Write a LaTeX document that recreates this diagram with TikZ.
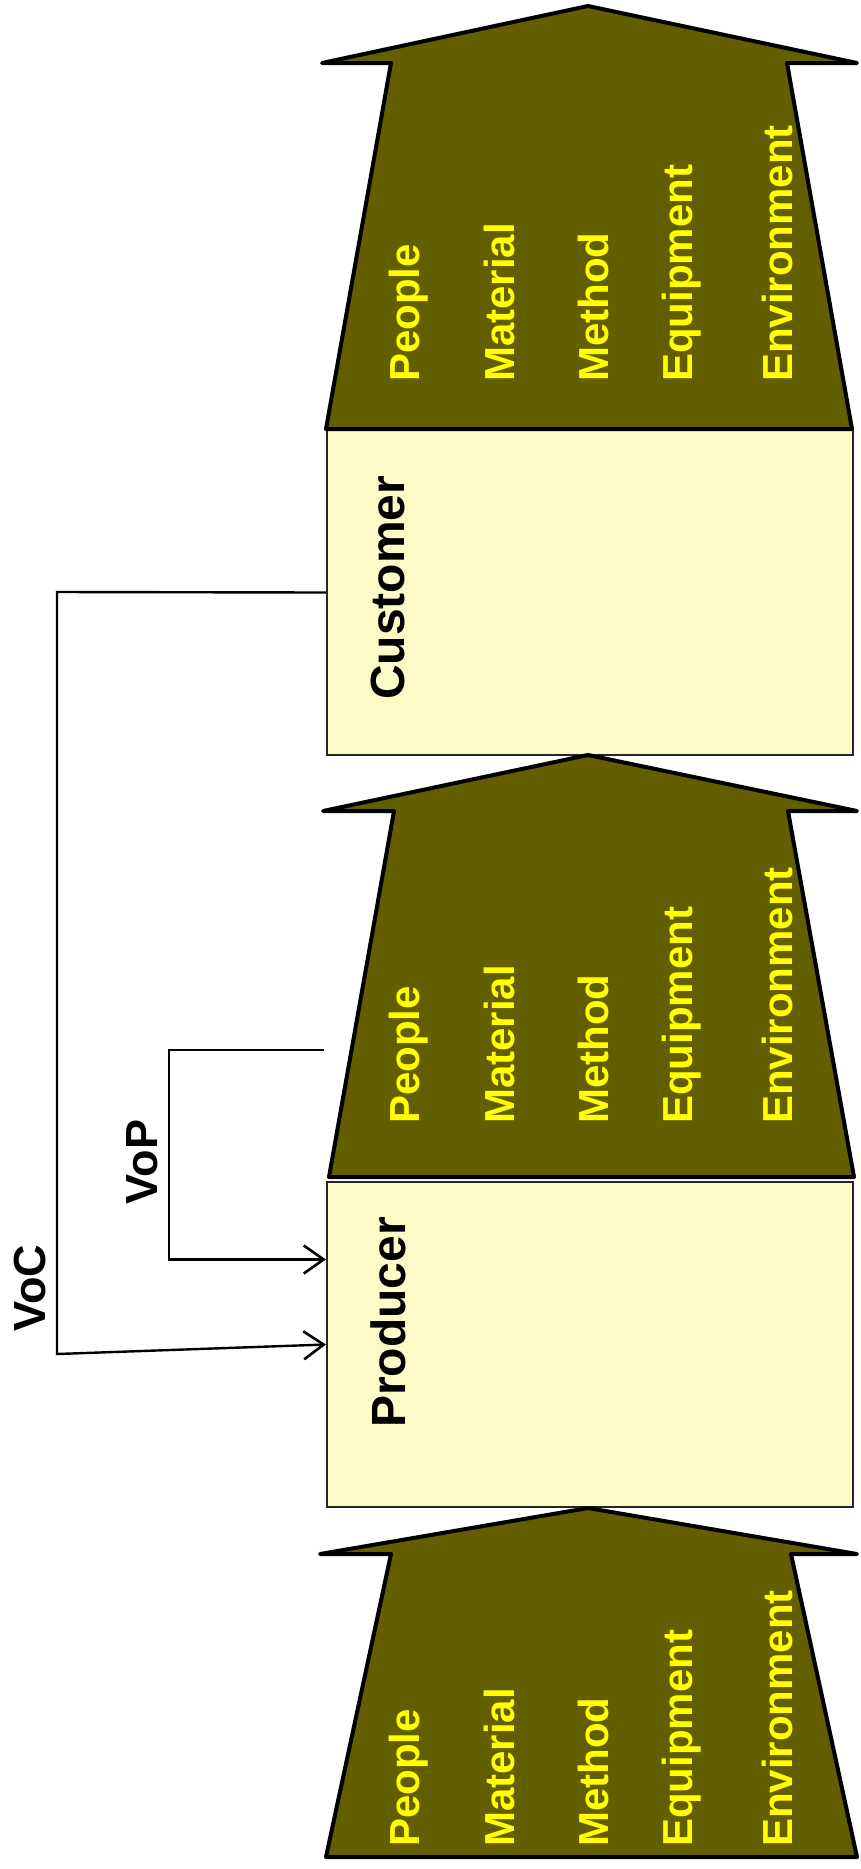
\documentclass[tikz,border=0pt]{standalone}
\usepackage{fontspec}
\setmainfont{Liberation Sans}
\usetikzlibrary{arrows.meta}
\definecolor{arrowfill}{RGB}{99,94,0}
\definecolor{boxfill}{RGB}{252,250,198}
\definecolor{txtyellow}{RGB}{255,255,0}
\begin{document}
\begin{tikzpicture}[x=1pt,y=-1pt,
  fatarrow/.style={draw=black, line width=4pt, fill=arrowfill, line join=round, line cap=round},
  box/.style={draw=black!85, line width=2pt, fill=boxfill, minimum width=526pt, minimum height=325pt, inner sep=0pt, anchor=north west},
  factor/.style={text=txtyellow, font=\bfseries\fontsize{42}{42}\selectfont, rotate=90, anchor=west, inner sep=0pt},
  actor/.style={font=\bfseries\fontsize{48}{48}\selectfont, rotate=90, anchor=west, inner sep=0pt},
  voice/.style={font=\bfseries\fontsize{45}{45}\selectfont, rotate=90, inner sep=0pt},
  conn/.style={line width=2.4pt, draw=black},
  barb/.style={-{Straight Barb[length=20pt, width=28pt, line width=2.6pt]}}
]
\useasboundingbox (0,0) rectangle (860,1869);
\fill[white] (0,0) rectangle (860,1869);

% boxes
\node[box] (cust) at (326,429) {};
\node[box] (prod) at (326,1181) {};

% fat arrows
\draw[fatarrow] (322,63) -- (588,6) -- (857,63) -- (787,63) -- (852,429) -- (326,429) -- (391,63) -- cycle;
\draw[fatarrow] (323,811) -- (588,755) -- (857,811) -- (788,811) -- (854,1177) -- (329,1177) -- (394,811) -- cycle;
\draw[fatarrow] (320,1554) -- (588,1508) -- (857,1554) -- (791,1554) -- (857,1857) -- (326,1857) -- (391,1554) -- cycle;

% factor labels
\foreach \t/\x in {People/409, Material/499, Method/593, Equipment/682, Environment/777} {
  \node[factor] (top\t) at (\x,382) {\t};
  \node[factor] (mid\t) at (\x,1124) {\t};
  \node[factor] (bot\t) at (\x,1847) {\t};
}

% actor labels
\node[actor] (custlabel) at (388,700) {Customer};
\node[actor] (prodlabel) at (388,1428) {Producer};

% connectors
\coordinate (vocTop) at (57,592);
\coordinate (vocBot) at (57,1354);
\draw[conn, barb] (cust.west) -- (vocTop) -- (vocBot) -- (prod.west);

\coordinate (vopStart) at (324,1050);
\coordinate (vopCorner) at (169,1050);
\draw[conn, barb] (vopStart) -- (vopCorner) |- ([yshift=85pt]prod.west);

\node[voice] (voc) at (30,1288) {VoC};
\node[voice] (vop) at (142,1162) {VoP};
\end{tikzpicture}
\end{document}
